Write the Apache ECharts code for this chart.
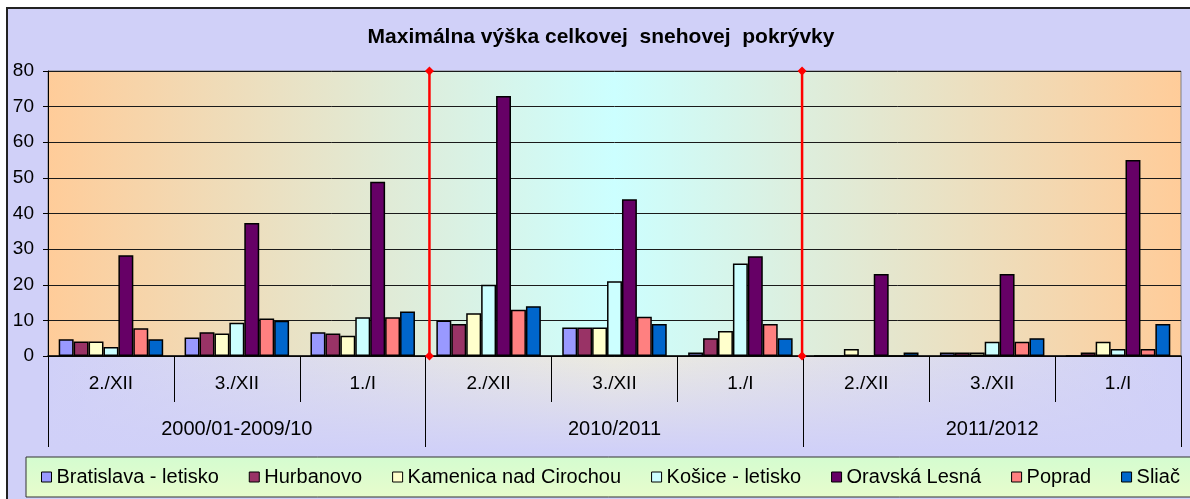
<!DOCTYPE html>
<html>
<head>
<meta charset="utf-8">
<title>Maximálna výška celkovej snehovej pokrývky</title>
<script src="https://cdn.jsdelivr.net/npm/echarts@6/dist/echarts.min.js"></script>
<style>
  html, body { margin: 0; padding: 0; background: #fff; }
  #chart_snow { width: 1190px; height: 499px; }
</style>
</head>
<body>
<div id="chart_snow"></div>
<script>
  // kategórie (dekády) a sezóny
  var categories = ['2./XII', '3./XII', '1./I', '2./XII', '3./XII', '1./I', '2./XII', '3./XII', '1./I'];
  var seasons = ['2000/01-2009/10', '2010/2011', '2011/2012'];
  var yTicks = [0, 80, 10]; // min, max, interval

  // hodnoty (cm) odčítané z grafu
  var bratislava = [4.7, 5.2, 6.7, 10, 8, 1, 0, 1, 0];
  var hurbanovo = [4.1, 6.7, 6.3, 9, 8, 5, 0, 1, 1];
  var kamenica = [4.1, 6.3, 5.7, 12, 8, 7, 2, 1, 4];
  var kosice = [2.5, 9.3, 10.9, 20, 21, 26, 0, 4, 2];
  var oravska = [28.3, 37.3, 48.9, 73, 44, 28, 23, 23, 55];
  var poprad = [7.8, 10.5, 10.9, 13, 11, 9, 0, 4, 2];
  var sliac = [4.7, 9.9, 12.5, 14, 9, 5, 1, 5, 9];

  // červené deliace čiary medzi sezónami (pozícia na osi kategórií)
  var separators = [3.03, 5.99];

  var stations = [
    { name: 'Bratislava - letisko', color: '#9999FF', data: bratislava },
    { name: 'Hurbanovo', color: '#993366', data: hurbanovo },
    { name: 'Kamenica nad Cirochou', color: '#FFFFCC', data: kamenica },
    { name: 'Košice - letisko', color: '#CCFFFF', data: kosice },
    { name: 'Oravská Lesná', color: '#660066', data: oravska },
    { name: 'Poprad', color: '#FF8080', data: poprad },
    { name: 'Sliač', color: '#0066CC', data: sliac }
  ];

  var font = 'Liberation Sans, Arial, sans-serif';
  var lavender = '#d0d0f8';

  var chart_snow = document.getElementById('chart_snow');
  var myChartSnow = echarts.init(chart_snow);

  var series = stations.map(function (s) {
    return {
      name: s.name,
      type: 'bar',
      xAxisIndex: 0,
      yAxisIndex: 0,
      barGap: '0%',
      barCategoryGap: '17%',
      itemStyle: { color: s.color, borderColor: '#000', borderWidth: 1.5 },
      data: s.data
    };
  });

  separators.forEach(function (x, i) {
    series.push({
      name: 'sep' + i,
      type: 'line',
      xAxisIndex: 2,
      yAxisIndex: 0,
      silent: true,
      clip: false,
      z: 5,
      symbol: 'diamond',
      symbolSize: 9,
      lineStyle: { color: '#ff0000', width: 2.5 },
      itemStyle: { color: '#ff0000' },
      data: [[x, yTicks[0]], [x, yTicks[1]]]
    });
  });

  var option = {
    animation: false,
    textStyle: { fontFamily: font, color: '#000' },
    graphic: [
      {
        type: 'rect', z: -10, silent: true,
        shape: { x: 7, y: 8, width: 1200, height: 510 },
        style: { fill: lavender, stroke: '#222', lineWidth: 2 }
      },
      {
        // pás pod osou x
        type: 'rect', z: -9, silent: true,
        shape: { x: 48, y: 356, width: 1133, height: 95 },
        style: {
          fill: new echarts.graphic.LinearGradient(0, 0, 1, 0, [
            { offset: 0, color: lavender },
            { offset: 0.5, color: '#ecebe0' },
            { offset: 1, color: lavender }
          ])
        }
      },
      {
        type: 'rect', z: -8, silent: true,
        shape: { x: 48, y: 356, width: 1133, height: 95 },
        style: {
          fill: new echarts.graphic.LinearGradient(0, 0, 0, 1, [
            { offset: 0, color: 'rgba(208,208,248,0)' },
            { offset: 1, color: 'rgba(208,208,248,1)' }
          ])
        }
      },
      {
        // rámik legendy
        type: 'rect', z: -7, silent: true,
        shape: { x: 26, y: 457, width: 1180, height: 40 },
        style: {
          fill: new echarts.graphic.LinearGradient(0, 0, 0, 1, [
            { offset: 0, color: '#d4fcd0' },
            { offset: 1, color: '#e8fccc' }
          ]),
          stroke: '#333',
          lineWidth: 1
        }
      }
    ],
    title: {
      text: 'Maximálna výška celkovej  snehovej  pokrývky',
      left: 601,
      textAlign: 'center',
      top: 27,
      padding: 0,
      textStyle: { fontFamily: font, fontSize: 21, fontWeight: 'bold', color: '#000' }
    },
    legend: {
      data: stations.map(function (s) { return s.name; }),
      left: 41,
      top: 467,
      padding: 0,
      itemGap: 30,
      itemWidth: 10,
      itemHeight: 10,
      icon: 'rect',
      itemStyle: { borderColor: '#000', borderWidth: 1 },
      textStyle: { fontFamily: font, fontSize: 20, color: '#000' }
    },
    grid: {
      left: 48,
      right: 9,
      top: 71,
      bottom: 143,
      show: true,
      borderColor: '#808080',
      borderWidth: 1,
      backgroundColor: new echarts.graphic.LinearGradient(0, 0, 1, 0, [
        { offset: 0, color: '#ffcc99' },
        { offset: 0.5, color: '#ccffff' },
        { offset: 1, color: '#ffcc99' }
      ])
    },
    xAxis: [
      {
        type: 'category',
        data: categories,
        position: 'bottom',
        axisLine: { show: true, lineStyle: { color: '#000', width: 1.5 } },
        axisTick: { show: true, length: 46, interval: 0, lineStyle: { color: '#000', width: 1 } },
        axisLabel: { interval: 0, margin: 18, fontSize: 19, color: '#000', fontFamily: font }
      },
      {
        type: 'category',
        data: seasons,
        position: 'bottom',
        offset: 0,
        axisLine: { show: false },
        axisTick: { show: true, length: 91, interval: 0, lineStyle: { color: '#000', width: 1 } },
        axisLabel: { interval: 0, margin: 63, fontSize: 20, color: '#000', fontFamily: font }
      },
      {
        type: 'value',
        min: 0,
        max: categories.length,
        show: false
      }
    ],
    yAxis: [
      {
        type: 'value',
        min: yTicks[0],
        max: yTicks[1],
        interval: yTicks[2],
        axisLine: { show: true, lineStyle: { color: '#000' } },
        axisTick: { show: true, length: 5, lineStyle: { color: '#000' } },
        axisLabel: { margin: 14, fontSize: 19, color: '#000', fontFamily: font },
        splitLine: { lineStyle: { color: '#1a1a1a', width: 1 } }
      }
    ],
    series: series
  };

  myChartSnow.setOption(option);
  window.addEventListener('resize', function () {
    myChartSnow.resize();
  });
</script>
</body>
</html>
